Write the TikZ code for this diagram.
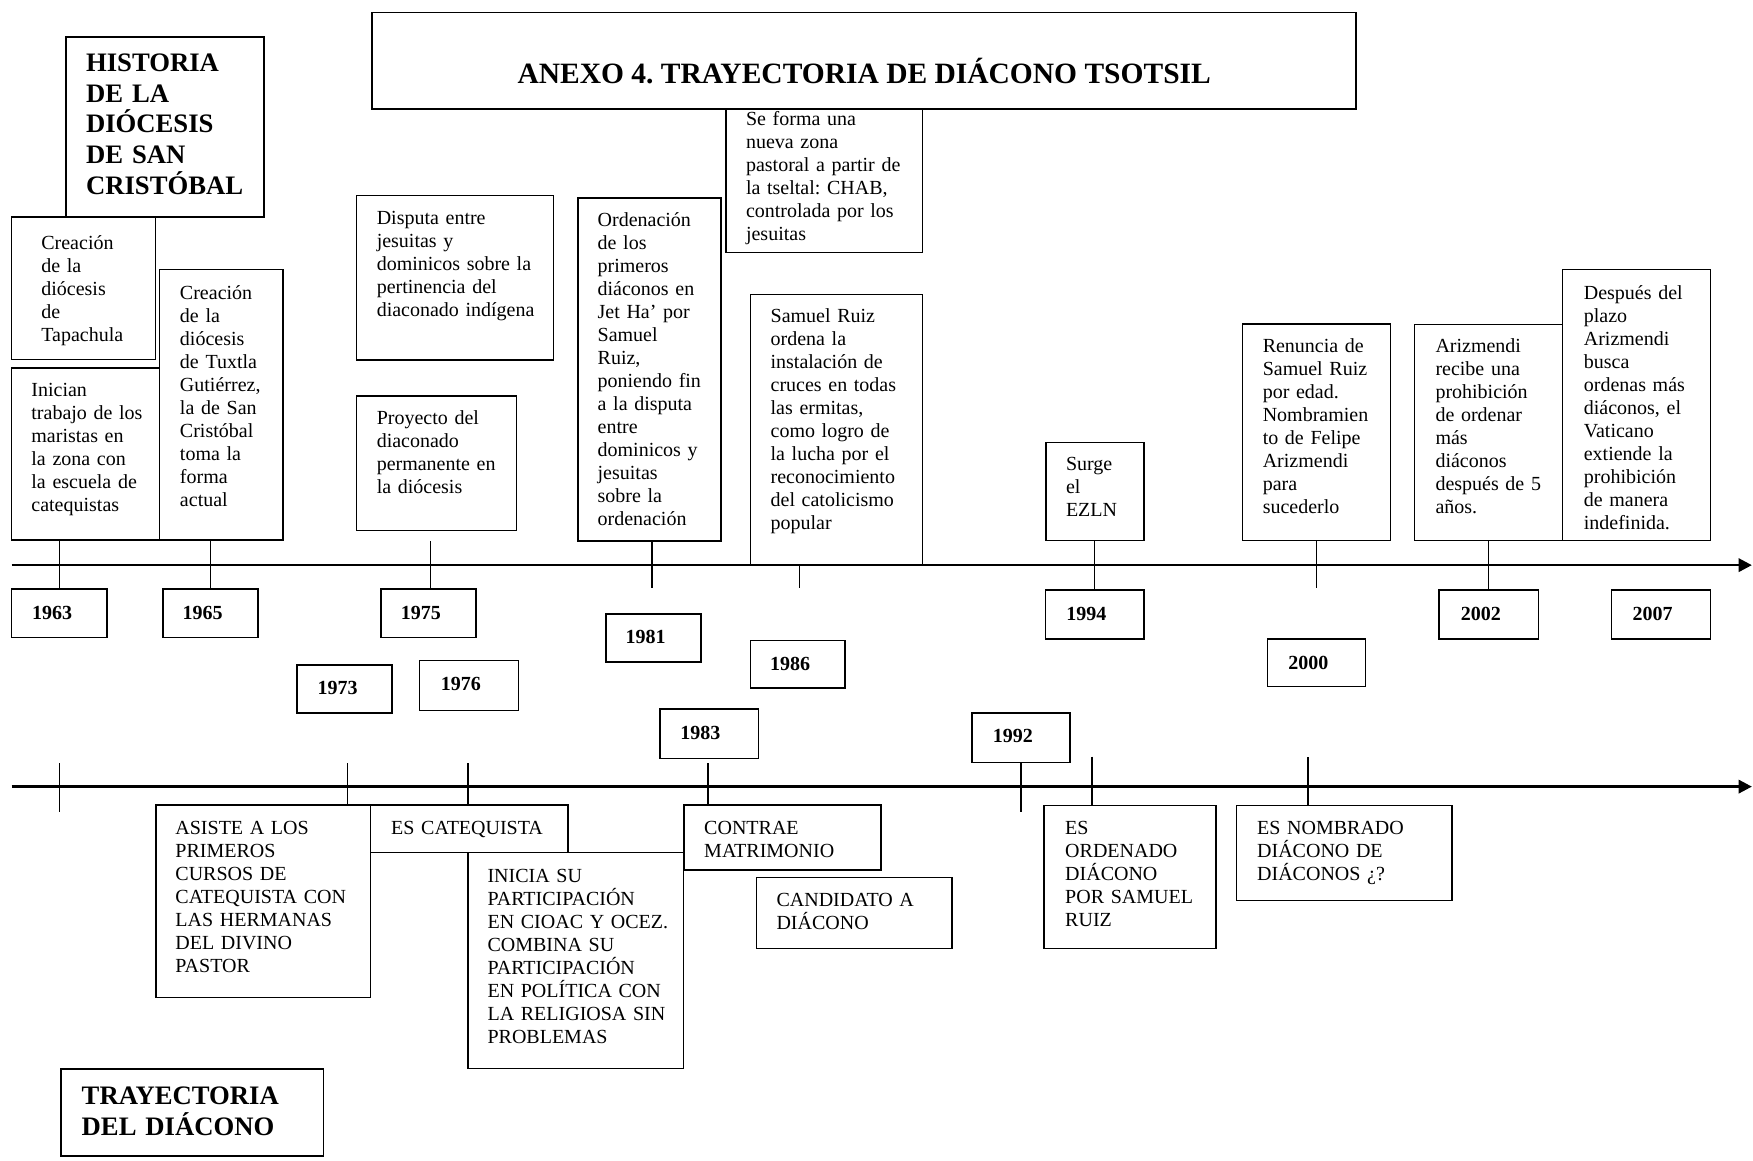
\documentclass[tikz,border=0pt]{standalone}
\usepackage{fontspec}
\setmainfont{Liberation Serif}
\usetikzlibrary{arrows.meta,calc}
\frenchspacing

\tikzset{
 evbox/.style={draw, line width=0.9pt, inner sep=0pt, outer sep=0pt},
 evtxt/.style={inner sep=0pt, outer sep=0pt, align=left, font=\fontsize{12}{13.8}\selectfont},
 yrtxt/.style={font=\fontsize{12}{13.8}\selectfont\bfseries},
 headtxt/.style={font=\fontsize{16}{18.4}\selectfont\bfseries},
 titletxt/.style={font=\fontsize{17.7}{20}\selectfont\bfseries},
 axisline/.style={line width=1.6pt, -{Triangle[length=8pt,width=8pt]}},
 tickline/.style={line width=0.8pt},
}

% [text style]{name}{x1}{y1}{x2}{y2}{text x}{first baseline y}{text}
\newcommand\EvBox[9][]{%
  \node[evbox, minimum width={(#5-#3)*0.6708pt}, minimum height={(#6-#4)*0.6708pt}, anchor=north west] (#2) at (#3,#4) {};
  \pgfmathsetlengthmacro\evtw{(#5-#7-3)*0.6708pt}%
  \node[evtxt, #1, text width=\evtw, anchor=base west] (#2-t) at (#7,#8) {#9};
}

\begin{document}
\begin{tikzpicture}[x=0.6708pt,y=-0.6708pt]
\useasboundingbox (0,0) rectangle (1568,1038);
\fill[white] (0,0) rectangle (1568,1038);

% title
\node[evbox, minimum width={(1213-332.7)*0.6708pt}, minimum height={(97.6-11.3)*0.6708pt}, anchor=north west] (title) at (332.7,11.3) {};
\node[evtxt, titletxt, anchor=base] (title-t) at (773,74.6) {ANEXO 4. TRAYECTORIA DE DIÁCONO TSOTSIL};

% upper events
\EvBox[headtxt]{hist}{58.9}{32.9}{236.2}{193.9}{77}{64}{HISTORIA\\DE LA\\DIÓCESIS\\DE SAN\\CRISTÓBAL}
\EvBox{tapa}{10.3}{193.9}{139.3}{321.7}{37}{223.6}{Creación\\de la\\diócesis\\de\\Tapachula}
\EvBox{inic}{10.3}{329}{142.7}{483}{28.1}{355}{Inician\\trabajo de los\\maristas en\\la zona con\\la escuela de\\catequistas}
\EvBox{tux}{142.7}{241.2}{253.3}{483}{161}{267.7}{Creación\\de la\\diócesis\\de Tuxtla\\Gutiérrez,\\la de San\\Cristóbal\\toma la\\forma\\actual}
\EvBox{disp}{319}{175}{495.3}{322}{337}{201}{Disputa entre\\jesuitas y\\dominicos sobre la\\pertinencia del\\diaconado indígena}
\EvBox{proy}{319}{354}{462.1}{474.4}{337}{380}{Proyecto del\\diaconado\\permanente en\\la diócesis}
\EvBox{orden}{516.8}{177.3}{644.7}{483.7}{534.6}{202.7}{Ordenación\\de los\\primeros\\diáconos en\\Jet Ha’ por\\Samuel\\Ruiz,\\poniendo fin\\a la disputa\\entre\\dominicos y\\jesuitas\\sobre la\\ordenación}
\EvBox{chab}{649.5}{97.6}{825.3}{226}{667.3}{112.3}{Se forma una\\nueva zona\\pastoral a partir de\\la tseltal: CHAB,\\controlada por los\\jesuitas}
\EvBox{cruces}{671.1}{263.6}{825.2}{505.5}{689.3}{288.6}{Samuel Ruiz\\ordena la\\instalación de\\cruces en todas\\las ermitas,\\como logro de\\la lucha por el\\reconocimiento\\del catolicismo\\popular}
\EvBox{surge}{935.4}{395.7}{1023.3}{483.4}{953.5}{421}{Surge\\el\\EZLN}
\EvBox{renun}{1111.2}{289.8}{1243.7}{483.5}{1129.5}{315.5}{Renuncia de\\Samuel Ruiz\\por edad.\\Nombramien\\to de Felipe\\Arizmendi\\para\\sucederlo}
\EvBox{ariz}{1265.4}{290.4}{1397.5}{483.5}{1284}{315.5}{Arizmendi\\recibe una\\prohibición\\de ordenar\\más\\diáconos\\después de 5\\años.}
\EvBox{despu}{1397.5}{240.9}{1530}{483.5}{1416.7}{267.7}{Después del\\plazo\\Arizmendi\\busca\\ordenas más\\diáconos, el\\Vaticano\\extiende la\\prohibición\\de manera\\indefinida.}

% year boxes
\EvBox[yrtxt]{y1963}{10.3}{527}{95.7}{570.2}{28.7}{554.5}{1963}
\EvBox[yrtxt]{y1965}{145.8}{527}{230.8}{570.2}{163.4}{554.5}{1965}
\EvBox[yrtxt]{y1975}{340.8}{527}{425.8}{570.2}{358.5}{554.5}{1975}
\EvBox[yrtxt]{y1994}{935}{527.7}{1023.4}{571.6}{953.8}{555.2}{1994}
\EvBox[yrtxt]{y2002}{1287.3}{527.7}{1376}{571.6}{1306.6}{555.2}{2002}
\EvBox[yrtxt]{y2007}{1441.4}{527.7}{1530}{571.6}{1460.4}{555.2}{2007}
\EvBox[yrtxt]{y1981}{542}{549.2}{627}{592}{559.7}{576}{1981}
\EvBox[yrtxt]{y1986}{671.1}{572.8}{756}{615.4}{688.8}{599.9}{1986}
\EvBox[yrtxt]{y2000}{1133.6}{571.6}{1221.6}{614}{1152.5}{598.4}{2000}
\EvBox[yrtxt]{y1973}{265.7}{595}{350.7}{637.6}{284.2}{621.6}{1973}
\EvBox[yrtxt]{y1976}{375.4}{590.8}{463.7}{635.5}{394.3}{617.6}{1976}
\EvBox[yrtxt]{y1983}{590.2}{634.2}{678.5}{678.3}{608.6}{661}{1983}
\EvBox[yrtxt]{y1992}{869.3}{637.8}{957}{681.9}{888}{664}{1992}

% lower events
\EvBox{asiste}{139.6}{720.2}{331.4}{892}{156.9}{746.3}{ASISTE A LOS\\PRIMEROS\\CURSOS DE\\CATEQUISTA CON\\LAS HERMANAS\\DEL DIVINO\\PASTOR}
\EvBox{escat}{331.4}{720.2}{508}{762.7}{349.9}{746.5}{ES CATEQUISTA}
\EvBox{inicia}{418.5}{762.7}{611.5}{955.8}{436.1}{789}{INICIA SU\\PARTICIPACIÓN\\EN CIOAC Y OCEZ.\\COMBINA SU\\PARTICIPACIÓN\\EN POLÍTICA CON\\LA RELIGIOSA SIN\\PROBLEMAS}
\EvBox{contrae}{611.8}{720}{787.9}{778}{629.9}{746.3}{CONTRAE\\MATRIMONIO}
\EvBox{candi}{676.5}{784.7}{851.7}{848.5}{694.6}{810.4}{CANDIDATO A\\DIÁCONO}
\EvBox{esord}{934}{720.6}{1087.7}{848.5}{952.8}{746.3}{ES\\ORDENADO\\DIÁCONO\\POR SAMUEL\\RUIZ}
\EvBox{esnomb}{1105.8}{720.6}{1298.6}{805.3}{1124.5}{746.3}{ES NOMBRADO\\DIÁCONO DE\\DIÁCONOS ¿?}
\EvBox[headtxt]{tray}{54.6}{956}{289.5}{1034}{73.1}{988}{TRAYECTORIA\\DEL DIÁCONO}

% axes
\coordinate (ax1s) at (10.3,505.5);
\coordinate (ax1e) at (1567,505.5);
\draw[axisline] (ax1s) -- (ax1e);
\coordinate (ax2s) at (10.3,703.6);
\coordinate (ax2e) at (1567,703.6);
\draw[axisline] (ax2s) -- (ax2e);

% upper ticks
\draw[tickline] (y1963.north |- inic.south) -- (y1963.north);
\draw[tickline] (y1965.north |- tux.south) -- (y1965.north);
\coordinate (k1975) at (384.8,484);
\draw[tickline] (k1975) -- (k1975 |- y1975.north);
\coordinate (k1981) at (583.2,526.2);
\draw[tickline] (k1981 |- orden.south) -- (k1981);
\coordinate (k1986a) at (715.3,505.5);
\coordinate (k1986b) at (715.3,526.2);
\draw[tickline] (k1986a) -- (k1986b);
\draw[tickline] (y1994.north |- surge.south) -- (y1994.north);
\coordinate (k2000) at (1177.5,526.2);
\draw[tickline] (k2000 |- renun.south) -- (k2000);
\draw[tickline] (y2002.north |- ariz.south) -- (y2002.north);

% lower ticks
\coordinate (b1963a) at (53,682.5);
\coordinate (b1963b) at (53,726.3);
\draw[tickline] (b1963a) -- (b1963b);
\coordinate (b1973) at (311,682.8);
\draw[tickline] (b1973) -- (b1973 |- asiste.north);
\coordinate (b1976) at (418.6,682.8);
\draw[tickline] (b1976) -- (b1976 |- escat.north);
\coordinate (b1983) at (633.3,682.8);
\draw[tickline] (b1983) -- (b1983 |- contrae.north);
\coordinate (b1992) at (913.3,726);
\draw[tickline] (y1992.south) -- (y1992.south |- b1992);
\coordinate (b1994) at (976.7,676.8);
\draw[tickline] (b1994) -- (b1994 |- esord.north);
\coordinate (b2000) at (1170.1,677.4);
\draw[tickline] (b2000) -- (b2000 |- esnomb.north);
\end{tikzpicture}
\end{document}
